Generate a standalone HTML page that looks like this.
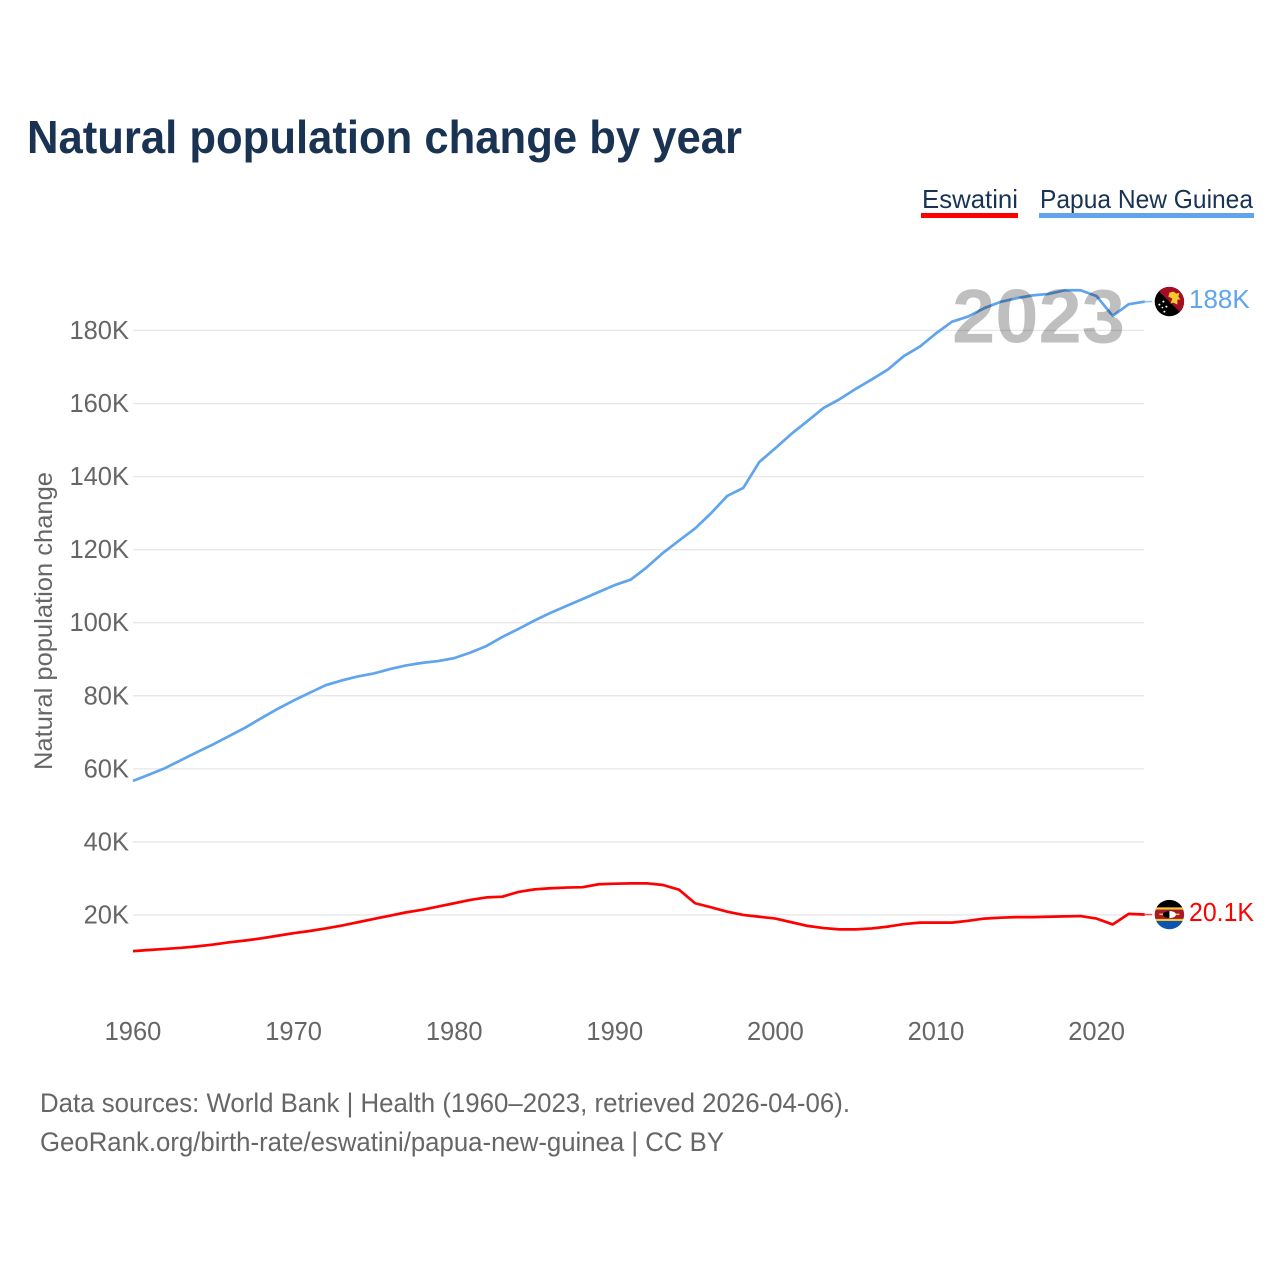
<!DOCTYPE html>
<html lang="en">
<head>
<meta charset="utf-8">
<title>Natural population change by year</title>
<style>
  html, body { margin: 0; padding: 0; background: #ffffff; }
  #chart-root { display: block; width: 1280px; height: 1280px; }
  text { font-family: "Liberation Sans", sans-serif; }
</style>
</head>
<body>
<svg id="chart-root" xmlns="http://www.w3.org/2000/svg" width="1280" height="1280" viewBox="0 0 1280 1280">
  <rect x="0" y="0" width="1280" height="1280" fill="#ffffff"/>
  <defs>
    <clipPath id="flag-clip"><circle cx="0" cy="0" r="14.7"/></clipPath>
  </defs>

  <text x="27" y="153" font-size="46" font-weight="700" fill="#1a3353" textLength="715" lengthAdjust="spacingAndGlyphs">Natural population change by year</text>

  <g>
    <g>
      <text x="922" y="208" font-size="26" fill="#1a3353" textLength="96" lengthAdjust="spacingAndGlyphs">Eswatini</text>
      <rect x="921" y="213" width="97" height="5" fill="#ff0000"/>
    </g>
    <g>
      <text x="1040" y="208" font-size="26" fill="#1a3353" textLength="213" lengthAdjust="spacingAndGlyphs">Papua New Guinea</text>
      <rect x="1039" y="213" width="215" height="5" fill="#5fa4ec"/>
    </g>
  </g>

  <g id="grid-layer"></g>
  <g id="y-tick-layer"></g>
  <g id="x-tick-layer"></g>

  <text transform="translate(52,770) rotate(-90)" x="0" y="0" font-size="25" fill="#666666" textLength="298" lengthAdjust="spacingAndGlyphs">Natural population change</text>

  <g id="series-layer"></g>

  <text x="952" y="342.5" font-size="76" font-weight="700" fill="#000000" fill-opacity="0.25" textLength="173" lengthAdjust="spacingAndGlyphs">2023</text>

  <g id="flag-png">
    <g clip-path="url(#flag-clip)">
      <rect x="-15" y="-15" width="30" height="30" fill="#000000"/>
      <polygon points="-15,-15 15,-15 15,15" fill="#a50d23"/>
      <polygon points="0,-9 4,-10 7,-8 10,-9 9,-5 11,-2 8,-2 8,3 4,1 1,2 3,-3 -1,-5" fill="#f6c92c"/>
      <circle cx="-6" cy="0" r="1" fill="#ffffff"/>
      <circle cx="-10" cy="3" r="1" fill="#ffffff"/>
      <circle cx="-3" cy="5" r="1" fill="#ffffff"/>
      <circle cx="-7" cy="6" r="0.8" fill="#ffffff"/>
      <circle cx="-5" cy="10" r="1" fill="#ffffff"/>
    </g>
  </g>
  <g id="flag-swz">
    <g clip-path="url(#flag-clip)">
      <rect x="-15" y="-15" width="30" height="8" fill="#000000"/>
      <rect x="-15" y="-7.2" width="30" height="2.4" fill="#f6c92c"/>
      <rect x="-15" y="-5" width="30" height="9.5" fill="#a8182e"/>
      <rect x="-15" y="4.3" width="30" height="2.2" fill="#f6c92c"/>
      <rect x="-15" y="6.4" width="30" height="9" fill="#0b55b0"/>
      <rect x="-10" y="-1" width="20" height="1.5" fill="#f6c92c"/>
      <ellipse cx="0" cy="0" rx="6.5" ry="3.6" fill="#ffffff"/>
      <path d="M0,-3.6 A6.5,3.6 0 0 0 0,3.6 Z" fill="#000000"/>
    </g>
  </g>

  <text id="end-label-png" x="1189" y="0" font-size="26" fill="#5fa4ec"></text>
  <text id="end-label-swz" x="1189" y="0" font-size="26" fill="#ff0000" textLength="65" lengthAdjust="spacingAndGlyphs"></text>

  <g>
    <text x="40" y="1112" font-size="26.5" fill="#666666" textLength="810" lengthAdjust="spacingAndGlyphs">Data sources: World Bank | Health (1960–2023, retrieved 2026-04-06).</text>
    <text x="40" y="1151" font-size="26.5" fill="#666666" textLength="684" lengthAdjust="spacingAndGlyphs">GeoRank.org/birth-rate/eswatini/papua-new-guinea | CC BY</text>
  </g>
</svg>

<script>
const years = [1960,1961,1962,1963,1964,1965,1966,1967,1968,1969,1970,1971,1972,1973,1974,1975,1976,1977,1978,1979,1980,1981,1982,1983,1984,1985,1986,1987,1988,1989,1990,1991,1992,1993,1994,1995,1996,1997,1998,1999,2000,2001,2002,2003,2004,2005,2006,2007,2008,2009,2010,2011,2012,2013,2014,2015,2016,2017,2018,2019,2020,2021,2022,2023];

const papuaNewGuinea = [56.7,58.4,60.2,62.4,64.6,66.7,69.0,71.3,73.9,76.4,78.7,80.8,82.9,84.2,85.3,86.1,87.3,88.3,89.0,89.5,90.3,91.8,93.6,96.1,98.3,100.6,102.7,104.6,106.5,108.4,110.3,111.8,115.2,119.1,122.5,125.8,130.0,134.7,136.9,144.0,147.8,151.7,155.2,158.8,161.2,164.0,166.6,169.3,173.0,175.6,179.2,182.4,183.8,186.1,187.8,188.8,189.6,190.0,191.0,191.0,189.4,184.0,187.2,187.9];

const eswatini = [10.1,10.4,10.7,11.0,11.4,11.9,12.5,13.0,13.6,14.3,15.0,15.6,16.3,17.1,18.0,18.9,19.8,20.7,21.4,22.3,23.2,24.1,24.8,25.0,26.3,27.0,27.3,27.5,27.6,28.4,28.55,28.65,28.65,28.2,26.9,23.2,22.1,20.9,20.0,19.5,19.0,18.0,17.0,16.4,16.05,16.05,16.3,16.8,17.5,17.9,17.9,17.9,18.4,19.0,19.25,19.4,19.4,19.5,19.6,19.7,19.0,17.4,20.3,20.1];

const yTickValues = [20,40,60,80,100,120,140,160,180];
const yTickLabels = ["20K","40K","60K","80K","100K","120K","140K","160K","180K"];
const xTickValues = [1960,1970,1980,1990,2000,2010,2020];
const xTickLabels = ["1960","1970","1980","1990","2000","2010","2020"];
const pngEndLabel = "188K";
const swzEndLabel = "20.1K";

const SVG_NS = "http://www.w3.org/2000/svg";
function xScale(year) { return 133 + (year - 1960) * 16.06; }
function yScale(value) { return 988 - value * 3.653; }

const gridLayer = document.getElementById("grid-layer");
const yTickLayer = document.getElementById("y-tick-layer");
const xTickLayer = document.getElementById("x-tick-layer");
const seriesLayer = document.getElementById("series-layer");

yTickValues.forEach(function (value, i) {
  const line = document.createElementNS(SVG_NS, "line");
  
  
  line.setAttribute("x1", 133);
  line.setAttribute("x2", 1144);
  line.setAttribute("y1", yScale(value));
  line.setAttribute("y2", yScale(value));
  line.setAttribute("stroke", "#e8e8e8");
  line.setAttribute("stroke-width", "1.4");
  gridLayer.appendChild(line);

  const label = document.createElementNS(SVG_NS, "text");
  
  
  label.setAttribute("x", 129);
  label.setAttribute("y", yScale(value) + 8.5);
  label.setAttribute("text-anchor", "end");
  label.setAttribute("font-size", "25.5");
  label.setAttribute("fill", "#666666");
  label.textContent = yTickLabels[i];
  yTickLayer.appendChild(label);
});

xTickValues.forEach(function (year, i) {
  const label = document.createElementNS(SVG_NS, "text");
  
  
  label.setAttribute("x", xScale(year));
  label.setAttribute("y", 1040);
  label.setAttribute("text-anchor", "middle");
  label.setAttribute("font-size", "25.5");
  label.setAttribute("fill", "#666666");
  label.textContent = xTickLabels[i];
  xTickLayer.appendChild(label);
});

function linePoints(values) {
  return values.map(function (v, i) {
    return xScale(years[i]).toFixed(2) + "," + yScale(v).toFixed(2);
  }).join(" ");
}

const swzLine = document.createElementNS(SVG_NS, "polyline");


swzLine.setAttribute("points", linePoints(eswatini));
swzLine.setAttribute("fill", "none");
swzLine.setAttribute("stroke", "#ff0000");
swzLine.setAttribute("stroke-width", "2.7");
swzLine.setAttribute("stroke-linejoin", "round");
seriesLayer.appendChild(swzLine);

const pngLine = document.createElementNS(SVG_NS, "polyline");


pngLine.setAttribute("points", linePoints(papuaNewGuinea));
pngLine.setAttribute("fill", "none");
pngLine.setAttribute("stroke", "#5fa4ec");
pngLine.setAttribute("stroke-width", "2.7");
pngLine.setAttribute("stroke-linejoin", "round");
seriesLayer.appendChild(pngLine);

const lastYear = years[years.length - 1];
const lastSwz = eswatini[eswatini.length - 1];
const lastPng = papuaNewGuinea[papuaNewGuinea.length - 1];

const swzConnector = document.createElementNS(SVG_NS, "line");


swzConnector.setAttribute("x1", xScale(lastYear));
swzConnector.setAttribute("x2", xScale(lastYear) + 7.5);
swzConnector.setAttribute("y1", yScale(lastSwz));
swzConnector.setAttribute("y2", yScale(lastSwz));
swzConnector.setAttribute("stroke", "#ff0000");
swzConnector.setAttribute("stroke-opacity", "0.7");
swzConnector.setAttribute("stroke-width", "1.5");
seriesLayer.appendChild(swzConnector);

const pngConnector = document.createElementNS(SVG_NS, "line");


pngConnector.setAttribute("x1", xScale(lastYear));
pngConnector.setAttribute("x2", xScale(lastYear) + 7.5);
pngConnector.setAttribute("y1", yScale(lastPng));
pngConnector.setAttribute("y2", yScale(lastPng));
pngConnector.setAttribute("stroke", "#5fa4ec");
pngConnector.setAttribute("stroke-opacity", "0.7");
pngConnector.setAttribute("stroke-width", "1.5");
seriesLayer.appendChild(pngConnector);

document.getElementById("flag-png").setAttribute("transform", "translate(1169.4," + yScale(lastPng) + ")");
document.getElementById("flag-swz").setAttribute("transform", "translate(1169.4," + yScale(lastSwz) + ")");

const endPng = document.getElementById("end-label-png");
endPng.setAttribute("y", yScale(lastPng) + 6.5);
endPng.textContent = pngEndLabel;

const endSwz = document.getElementById("end-label-swz");
endSwz.setAttribute("y", yScale(lastSwz) + 6.5);
endSwz.textContent = swzEndLabel;
</script>
</body>
</html>
